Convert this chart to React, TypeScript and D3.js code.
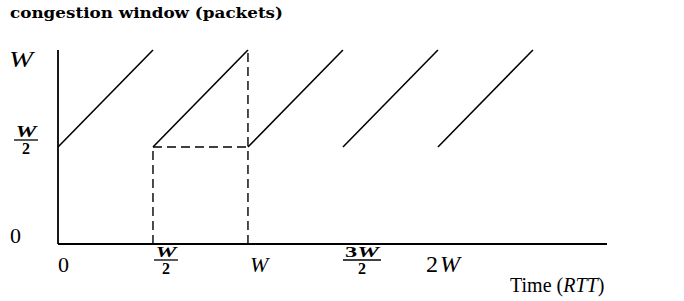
import React from "react";
import * as d3 from "d3";

// Data (time in units of W RTTs, window in units of W packets)
const cycleStarts = [0, 0.5, 1, 1.5, 2];
const cycleLow = [0.5, 0.5, 0.5, 0.5, 0.5];
const cycleHigh = [1, 1, 1, 1, 1];
const xTicks = [0, 0.5, 1, 1.5, 2];
const xTickLabels = ["0", "W/2", "W", "3W/2", "2W"];
const yTicks = [0, 0.5, 1];
const yTickLabels = ["0", "W/2", "W"];
const title = "congestion window (packets)";
const xTitle = "Time";
const xUnit = "RTT";

const W = 684;
const H = 301;
const SERIF = "'Liberation Serif'";

export default function App() {
  const x = d3.scaleLinear().domain([0, 2.89]).range([58, 607]);
  const y = d3.scaleLinear().domain([0, 1]).range([244, 50]);
  const line = d3
    .line<[number, number]>()
    .x((d) => x(d[0]))
    .y((d) => y(d[1]));

  const dash = "9 5";

  const frac = (cx: number, barY: number, num: string, den: string, halfW: number, fs: number) => {
    const m = num.match(/^(\d*)(W)$/);
    const numW = num.length > 1 ? 34 : 21;
    return (
      <g>
        <text x={cx} y={barY - 3} textAnchor="middle" fontFamily={SERIF} fontWeight="bold" fontSize={fs} textLength={numW} lengthAdjust="spacingAndGlyphs">
          {m ? m[1] : ""}
          <tspan fontStyle="italic">{m ? m[2] : num}</tspan>
        </text>
        <line x1={cx - halfW} x2={cx + halfW} y1={barY} y2={barY} stroke="#000" strokeWidth={1.3} />
        <text x={cx} y={barY + 14} textAnchor="middle" fontFamily={SERIF} fontWeight="bold" fontSize={16}>
          {den}
        </text>
      </g>
    );
  };

  const renderXLabel = (i: number) => {
    const t = xTicks[i];
    const lbl = xTickLabels[i];
    const px = x(t);
    if (lbl.includes("/")) {
      const [n, d] = lbl.split("/");
      return <g key={i}>{frac(px + 13 + (n.length - 1) * 6, 260, n, d, 12 + (n.length - 1) * 7, 14)}</g>;
    }
    const off = lbl === "2W" ? -12 : lbl === "W" ? 2 : 0;
    const fs = lbl === "2W" ? 24 : 22;
    const parts = lbl.match(/^(\d*)(W?)$/);
    return (
      <text key={i} x={px + off} y={272} fontFamily={SERIF} fontSize={fs}>
        {parts && parts[1]}
        {parts && parts[2] && (
          <tspan fontStyle="italic" dx={parts[1] ? 2 : 0}>
            {parts[2]}
          </tspan>
        )}
      </text>
    );
  };

  const renderYLabel = (i: number) => {
    const v = yTicks[i];
    const lbl = yTickLabels[i];
    const py = y(v);
    if (lbl.includes("/")) {
      const [n, d] = lbl.split("/");
      return <g key={i}>{frac(26, py - 7, n, d, 12, 16)}</g>;
    }
    if (lbl === "W") {
      return (
        <text key={i} x={9} y={py + 17} fontFamily={SERIF} fontStyle="italic" fontSize={23} textLength={24} lengthAdjust="spacingAndGlyphs">
          {lbl}
        </text>
      );
    }
    return (
      <text key={i} x={10} y={py - 1} fontFamily={SERIF} fontSize={22}>
        {lbl}
      </text>
    );
  };

  return (
    <svg width={W} height={H} style={{ position: "absolute", left: 0, top: 0, background: "#fff" }}>
      <rect width={W} height={H} fill="#fff" />
      <text x={10} y={18} fontFamily="'DejaVu Serif'" fontWeight="bold" fontSize={15} textLength={273} lengthAdjust="spacingAndGlyphs">
        {title}
      </text>
      {/* axes */}
      <line x1={x(0)} x2={x(0)} y1={y(1)} y2={y(0)} stroke="#000" strokeWidth={1.8} />
      <line x1={x(0)} x2={x(2.89)} y1={y(0)} y2={y(0)} stroke="#000" strokeWidth={1.8} />
      {/* sawtooth ramps */}
      {cycleStarts.map((s, i) => (
        <path
          key={i}
          d={line([
            [s, cycleLow[i]],
            [s + (cycleHigh[i] - cycleLow[i]), cycleHigh[i]],
          ]) || ""}
          fill="none"
          stroke="#000"
          strokeWidth={1.6}
        />
      ))}
      {/* dashed guides for one cycle */}
      <path d={line([[cycleStarts[1], cycleLow[1]], [cycleStarts[2], cycleLow[1]]]) || ""} stroke="#000" strokeWidth={1.4} strokeDasharray={dash} fill="none" />
      <path d={line([[cycleStarts[1], 0], [cycleStarts[1], cycleLow[1]]]) || ""} stroke="#000" strokeWidth={1.4} strokeDasharray={dash} fill="none" />
      <path d={line([[cycleStarts[2], 0], [cycleStarts[2], cycleHigh[1]]]) || ""} stroke="#000" strokeWidth={1.4} strokeDasharray={dash} fill="none" />
      {xTicks.map((_, i) => renderXLabel(i))}
      {yTicks.map((_, i) => renderYLabel(i))}
      <text x={510} y={292} fontFamily={SERIF} fontSize={20}>
        {xTitle} (<tspan fontStyle="italic">{xUnit}</tspan>)
      </text>
    </svg>
  );
}
